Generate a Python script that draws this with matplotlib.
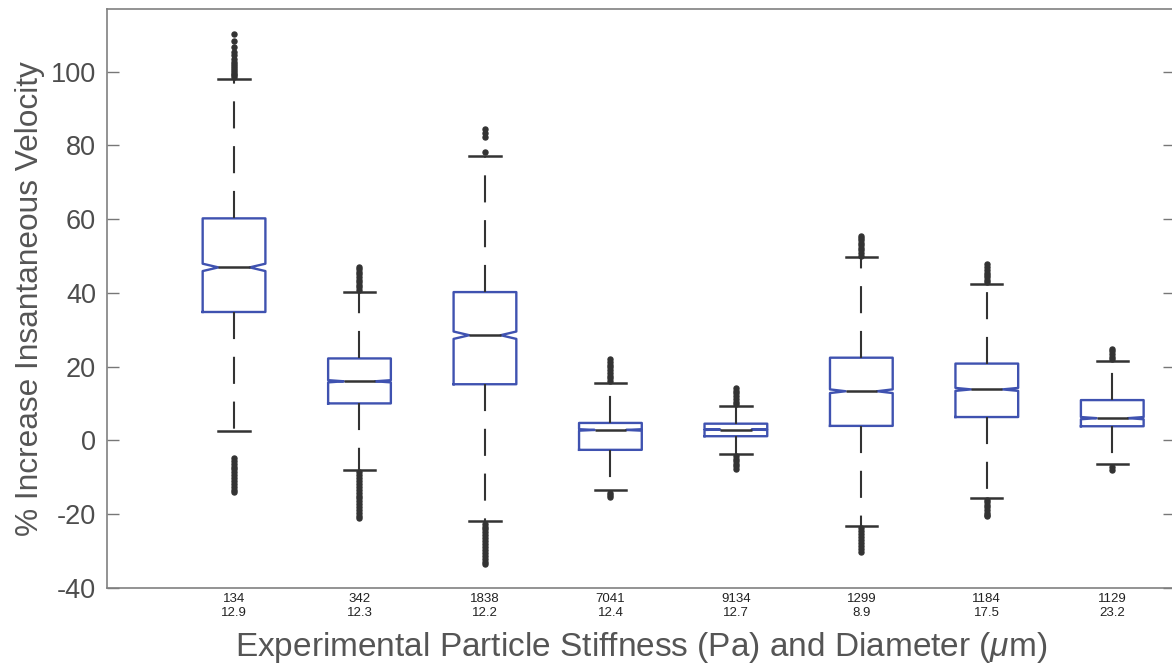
import matplotlib
matplotlib.use('Agg')
import matplotlib.pyplot as plt

# particle stiffness (Pa) and diameter (um) for each group
STIFFNESS = ['134', '342', '1838', '7041', '9134', '1299', '1184', '1129']
DIAMETER = ['12.9', '12.3', '12.2', '12.4', '12.7', '8.9', '17.5', '23.2']

# box statistics, % increase in instantaneous velocity
Q1 = [34.8, 10.0, 15.2, -2.6, 1.1, 3.9, 6.3, 3.8]
MEDIAN = [46.9, 16.0, 28.5, 2.8, 2.9, 13.3, 13.8, 6.0]
Q3 = [60.2, 22.2, 40.2, 4.7, 4.5, 22.4, 20.8, 10.9]
WHISKER_LO = [2.5, -8.1, -22.0, -13.6, -3.6, -23.3, -15.6, -6.5]
WHISKER_HI = [97.9, 40.2, 77.1, 15.5, 9.3, 49.6, 42.5, 21.4]
NOTCH_HALF = [1.0, 0.3, 1.0, 0.2, 0.1, 0.5, 0.4, 0.3]

# outliers beyond the whiskers
OUTLIERS = [
    [98.5, 99.0, 99.5, 100.0, 100.5, 101.0, 101.5, 102.0, 102.5, 103.5,
     104.5, 105.4, 106.7, 108.4, 110.2,
     -4.8, -5.6, -6.4, -7.2, -7.9, -8.6, -9.4, -10.2, -11.0, -11.8, -12.6,
     -13.4, -14.1],
    [40.8, 41.5, 42.2, 42.9, 43.6, 44.3, 45.0, 45.7, 46.4, 47.0,
     -8.6, -9.4, -10.2, -11.0, -11.8, -12.6, -13.4, -14.2, -15.0, -15.8,
     -16.6, -17.4, -18.2, -19.0, -19.8, -20.6, -21.2],
    [78.3, 82.4, 83.4, 84.5,
     -22.6, -23.4, -24.2, -25.0, -25.8, -26.6, -27.4, -28.2, -29.0, -29.8,
     -30.6, -31.4, -32.2, -33.0, -33.5],
    [16.1, 16.8, 17.5, 18.3, 19.0, 19.8, 20.5, 21.3, 22.0,
     -14.2, -14.9, -15.5],
    [9.8, 10.5, 11.2, 12.0, 12.7, 13.4, 14.1,
     -4.2, -5.0, -5.7, -6.4, -7.1, -7.7],
    [50.1, 50.8, 51.5, 52.2, 52.9, 53.6, 54.3, 55.0, 55.3,
     -23.8, -24.6, -25.4, -26.2, -27.0, -27.8, -28.6, -29.4, -30.3],
    [43.0, 43.6, 44.2, 44.8, 45.4, 46.2, 47.0, 47.9,
     -16.1, -16.8, -17.5, -18.2, -18.9, -19.6, -20.3, -20.6],
    [22.0, 22.7, 23.4, 24.1, 24.8,
     -7.2, -8.0],
]

BOX_BLUE = '#3f52b0'
DARK = '#333333'
GRAY_TEXT = '#555555'

plt.rcParams['font.family'] = ['Liberation Sans', 'DejaVu Sans']
plt.rcParams['mathtext.fontset'] = 'custom'
plt.rcParams['mathtext.it'] = 'Liberation Sans:italic'
plt.rcParams['mathtext.rm'] = 'Liberation Sans'
plt.rcParams['axes.unicode_minus'] = False

W, H = 1172, 667
fig = plt.figure(figsize=(W / 100, H / 100), dpi=100)
ax = fig.add_axes([107 / W, (H - 587.7) / H, (1175 - 107) / W, (587.7 - 9) / H])

stats = []
for i in range(len(STIFFNESS)):
    stats.append(dict(
        med=MEDIAN[i], q1=Q1[i], q3=Q3[i],
        whislo=WHISKER_LO[i], whishi=WHISKER_HI[i],
        cilo=MEDIAN[i] - NOTCH_HALF[i], cihi=MEDIAN[i] + NOTCH_HALF[i],
        fliers=OUTLIERS[i]))

positions = list(range(1, len(STIFFNESS) + 1))
ax.bxp(stats, positions=positions, widths=0.5, shownotches=True,
       boxprops=dict(color=BOX_BLUE, linewidth=1.7),
       whiskerprops=dict(color=DARK, linewidth=1.5, linestyle=(0, (13, 8.5))),
       capprops=dict(color=DARK, linewidth=1.8),
       medianprops=dict(color=DARK, linewidth=1.8),
       flierprops=dict(marker='o', markersize=3.6, markerfacecolor=DARK,
                       markeredgecolor=DARK, linestyle='none'))

ax.set_xlim(-0.0125, 8.5)
ax.set_ylim(-40, 117)
ax.set_yticks(range(-40, 101, 20))

ax.set_xticks(positions, labels=[s + '\n' + d for s, d in zip(STIFFNESS, DIAMETER)])
ax.tick_params(axis='x', length=0, pad=4, labelsize=9.5, labelcolor='#222222')
ax.tick_params(axis='y', direction='in', length=8.5, width=1, color='#777777',
               right=True, labelsize=19.5, labelcolor='#4d4d4d', pad=8)
for t in ax.get_xticklabels():
    t.set_linespacing(1.15)

for side in ['left', 'bottom', 'top', 'right']:
    ax.spines[side].set_color('#808080')
    ax.spines[side].set_linewidth(1.2)

ax.set_xlabel(r'Experimental Particle Stiffness (Pa) and Diameter ($\mu$m)',
              fontsize=24, color=GRAY_TEXT, labelpad=8)
ax.set_ylabel('% Increase Insantaneous Velocity', fontsize=22.8,
              color=GRAY_TEXT, labelpad=4)

plt.savefig('out.png', dpi=100)
